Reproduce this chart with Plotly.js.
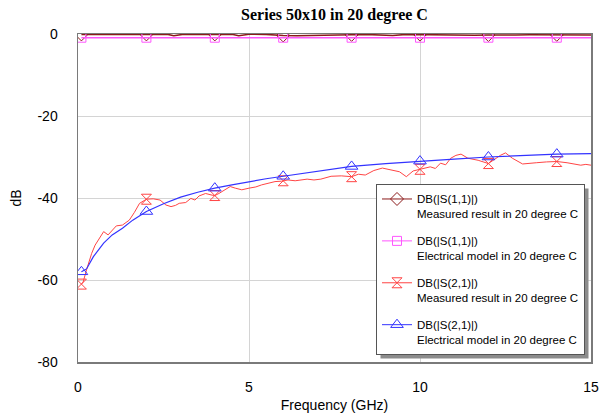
<!DOCTYPE html>
<html>
<head>
<meta charset="utf-8">
<script src="https://cdn.plot.ly/plotly-3.0.1.min.js"></script>
<style>
  html, body { margin: 0; padding: 0; background: #ffffff; }
  #chart { width: 600px; height: 419px; }
</style>
</head>
<body>
<div id="chart"></div>
<script>
// ---- Data ----
const chartTitle = 'Series 50x10 in 20 degree C';
const xAxisTitle = 'Frequency (GHz)';
const yAxisTitle = 'dB';
const xTickVals = [0, 5, 10, 15];
const yTickVals = [-80, -60, -40, -20, 0];
const markerFreqs = [0.1, 2, 4, 6, 8, 10, 12, 14];

const legendNames = [
  'DB(|S(1,1)|)<br>Measured result in 20 degree C',
  'DB(|S(1,1)|)<br>Electrical model in 20 degree C',
  'DB(|S(2,1)|)<br>Measured result in 20 degree C',
  'DB(|S(2,1)|)<br>Electrical model in 20 degree C'
];

// S11 measured (near 0 dB, partly clipped by the top of the frame)
const freqS11Meas = [0.1, 0.6, 1.2, 2, 2.6, 2.8, 3.1, 3.6, 4, 4.5, 4.7, 5.0, 5.5, 5.9, 6, 6.4, 6.9, 7.3, 7.6, 8, 8.4, 8.8, 9.2, 9.6, 10, 10.4, 10.8, 11.2, 11.6, 12, 12.4, 12.8, 13.2, 13.6, 14, 14.5, 15];
const s11Meas     = [-0.1, -0.05, -0.1, -0.1, -0.05, -0.4, -0.05, -0.1, -0.1, -0.05, -0.45, -0.05, -0.1, -0.35, -0.35, -0.4, -0.35, -0.4, -0.35, -0.2, -0.1, -0.3, -0.35, -0.1, -0.15, -0.25, -0.3, -0.25, -0.3, -0.25, -0.3, -0.25, -0.2, -0.25, -0.2, -0.25, -0.25];

// S11 electrical model (flat about -0.9 dB)
const freqS11Model = [0.1, 2, 4, 6, 8, 10, 12, 14, 15];
const s11Model     = [-0.9, -0.9, -0.9, -0.9, -0.9, -0.9, -0.9, -0.9, -0.9];

// S21 measured
const freqS21Meas = [0.1, 0.15, 0.25, 0.4, 0.5, 0.65, 0.75, 0.88, 1.0, 1.12, 1.3, 1.5, 1.65, 1.8, 2, 2.2, 2.4, 2.57, 2.72, 2.85, 2.96, 3.15, 3.3, 3.42, 3.54, 3.73, 3.92, 4, 4.12, 4.31, 4.45, 4.6, 4.79, 5.0, 5.2, 5.37, 5.57, 5.76, 5.95, 6, 6.14, 6.35, 6.53, 6.7, 6.9, 7.1, 7.4, 7.7, 8, 8.2, 8.4, 8.65, 8.9, 9.1, 9.4, 9.6, 9.8, 10, 10.3, 10.45, 10.6, 10.75, 10.9, 11.05, 11.2, 11.4, 11.55, 11.7, 12, 12.2, 12.35, 12.5, 12.7, 13.0, 13.2, 13.4, 13.7, 14, 14.3, 14.5, 14.7, 14.85, 15];
const s21Meas     = [-61, -60.5, -57.5, -53.5, -51.5, -49.4, -48.2, -49, -47.8, -46.8, -46.6, -45.4, -43.5, -41.3, -40.3, -40.2, -40.5, -41.7, -42.1, -41.8, -41.3, -41.1, -40.1, -40.5, -39.5, -38.9, -39.3, -39.4, -38.9, -38, -37.2, -37.6, -38, -37.6, -37.3, -36.8, -36.4, -36, -35.9, -35.8, -35.6, -35.8, -35.5, -35.4, -35.6, -35.4, -34.7, -34.6, -34.8, -34.2, -34.4, -33.3, -32.7, -33.0, -33.6, -34.8, -33.4, -33.0, -32.4, -32.8, -31.5, -31.9, -30.3, -29.6, -29.3, -30.3, -30.6, -30.8, -31.6, -30.5, -29.6, -29.0, -30.3, -31.7, -31.5, -31.4, -31.2, -31.1, -31.4, -31.7, -32.0, -31.8, -32.0];

// S21 electrical model
const freqS21Model = [0.1, 0.25, 0.45, 0.75, 1.0, 1.3, 1.6, 2, 2.5, 3, 3.5, 4, 4.5, 5, 5.5, 6, 7, 8, 9, 10, 11, 12, 13, 14, 15];
const s21Model     = [-58, -57.3, -54.3, -51, -49, -47.4, -45.4, -43.3, -41.4, -39.8, -38.6, -37.6, -36.8, -36.0, -35.3, -34.7, -33.5, -32.3, -31.6, -31.0, -30.5, -30.0, -29.6, -29.3, -29.2];

// ---- Styling ----
const FONT = 'Liberation Sans, Arial, sans-serif';
const isMarker = x => markerFreqs.some(m => Math.abs(m - x) < 1e-9);

const seriesList = [
  { xs: freqS11Meas,  ys: s11Meas,  name: legendNames[0], color: '#8b1a1a', lw: 1.5, sym: 'diamond-open',     ms: 10 },
  { xs: freqS11Model, ys: s11Model, name: legendNames[1], color: '#ff55ff', lw: 1.5, sym: 'square-open',      ms: 9 },
  { xs: freqS21Meas,  ys: s21Meas,  name: legendNames[2], color: '#ff4444', lw: 1,   sym: 'hourglass-open',   ms: 10 },
  { xs: freqS21Model, ys: s21Model, name: legendNames[3], color: '#3333ff', lw: 1.2, sym: 'triangle-up-open', ms: 11 }
];

const traces = [];
seriesList.forEach((s, i) => {
  const g = 'g' + i;
  traces.push({
    type: 'scatter', mode: 'lines', x: s.xs, y: s.ys, legendgroup: g, showlegend: false,
    line: { color: s.color, width: s.lw }
  });
  const mx = [], my = [];
  s.xs.forEach((x, k) => { if (isMarker(x)) { mx.push(x); my.push(s.ys[k]); } });
  traces.push({
    type: 'scatter', mode: 'markers', x: mx, y: my, legendgroup: g, showlegend: false,
    marker: { symbol: s.sym, size: s.ms, color: s.color, line: { width: 1, color: s.color } }
  });
  traces.push({
    type: 'scatter', mode: 'lines+markers', x: [null], y: [null], legendgroup: g, showlegend: true,
    name: s.name,
    line: { color: s.color, width: 1 },
    marker: { symbol: s.sym, size: s.ms, color: s.color, line: { width: 1, color: s.color } }
  });
});

const ML = 78, MR = 9, MT = 34, MB = 57;
const PW = 600 - ML - MR, PH = 419 - MT - MB;

const layout = {
  width: 600, height: 419,
  margin: { l: ML, r: MR, t: MT, b: MB, pad: 0 },
  paper_bgcolor: '#ffffff', plot_bgcolor: '#ffffff',
  font: { family: FONT, size: 14, color: '#000000' },
  title: {
    text: '<b>' + chartTitle + '</b>',
    font: { family: 'Liberation Serif, Times New Roman, serif', size: 16, color: '#000000' },
    xref: 'paper', x: 0.5, xanchor: 'center',
    yref: 'container', y: 1 - 14 / 419, yanchor: 'middle'
  },
  xaxis: {
    range: [0, 15], tickvals: xTickVals, ticktext: xTickVals.map(String),
    showgrid: true, gridcolor: '#d4d4d4', gridwidth: 1, zeroline: false,
    showline: true, mirror: true, linecolor: '#7a7a7a', linewidth: 1.5,
    ticks: '', ticklabelstandoff: 12, ticklabeloverflow: 'allow',
    tickfont: { family: FONT, size: 14, color: '#000000' },
    title: { text: xAxisTitle, font: { family: FONT, size: 14, color: '#000000' }, standoff: 6 }
  },
  yaxis: {
    range: [-80, 0], tickvals: yTickVals, ticktext: yTickVals.map(String),
    showgrid: true, gridcolor: '#d4d4d4', gridwidth: 1, zeroline: false,
    showline: true, mirror: true, linecolor: '#7a7a7a', linewidth: 1.5,
    ticks: '', ticklabelstandoff: 16,
    tickfont: { family: FONT, size: 14, color: '#000000' },
    title: { text: yAxisTitle, font: { family: FONT, size: 14, color: '#000000' }, standoff: 12 }
  },
  showlegend: true,
  legend: {
    x: (376 - ML) / PW, xanchor: 'left',
    y: 1 - (184 - MT) / PH, yanchor: 'top',
    bgcolor: '#ffffff', bordercolor: '#555555', borderwidth: 1,
    font: { family: FONT, size: 11.5, color: '#000000' },
    traceorder: 'grouped', tracegroupgap: 9, valign: 'top'
  }
};

Plotly.newPlot('chart', traces, layout, { staticPlot: true, displayModeBar: false }).then(gd => {
  const bg = gd.querySelector('.legend .bg');
  if (!bg) return;
  const bb = bg.getBoundingClientRect();
  const gb = gd.getBoundingClientRect();
  const sz = gd._fullLayout._size;
  const toX = px => (px - gb.left - sz.l) / sz.w;
  const toY = py => 1 - (py - gb.top - sz.t) / sz.h;
  const off = 4;
  return Plotly.relayout(gd, {
    shapes: [{
      type: 'rect', xref: 'paper', yref: 'paper', layer: 'above',
      x0: toX(bb.left + off), x1: toX(bb.right + off),
      y0: toY(bb.bottom + off), y1: toY(bb.top + off),
      fillcolor: '#8c8c8c', line: { width: 0 }
    }]
  });
});
</script>
</body>
</html>
